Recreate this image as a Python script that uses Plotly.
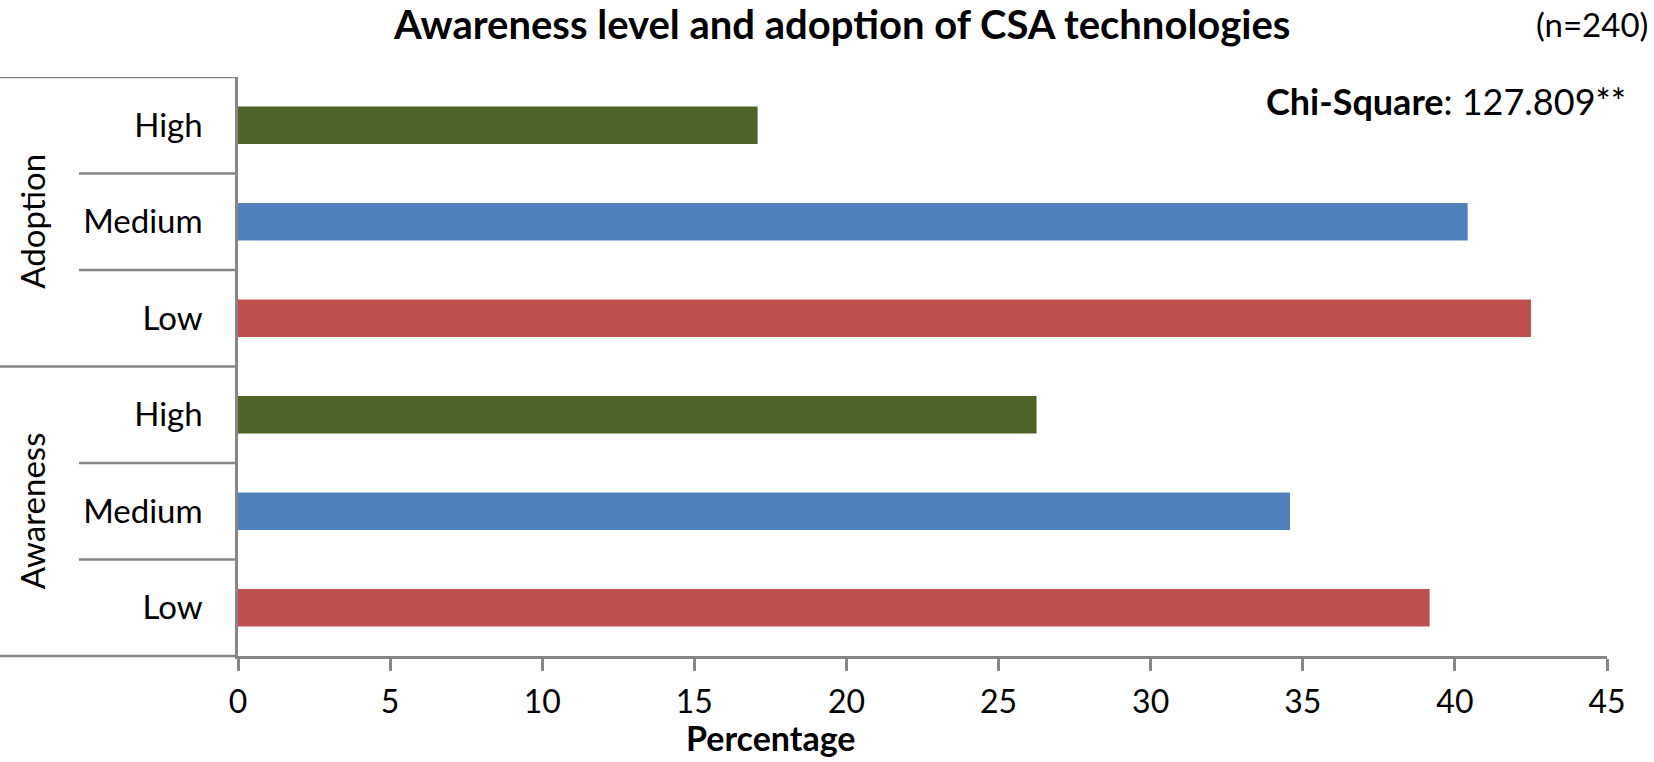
import plotly.graph_objects as go

# ---- data ----
groups = ["Awareness", "Adoption"]
levels = ["Low", "Medium", "High"]
awareness_pct = [39.17, 34.58, 26.25]
adoption_pct = [42.50, 40.42, 17.08]
level_colors = {"Low": "#C0504D", "Medium": "#4F81BD", "High": "#4F6228"}
x_ticks = [0, 5, 10, 15, 20, 25, 30, 35, 40, 45]
title_text = "Awareness level and adoption of CSA technologies"
n_text = "(n=240)"
chi_label = "Chi-Square"
chi_value = "127.809**"
x_title = "Percentage"

FONT = "Lato"
W, H = 1654, 762
L, R, T, B = 238, 47, 77, 106
PW = W - L - R
PH = H - T - B

def px_x(p):
    return (p - L) / PW

def px_y(p):
    return 1 - (p - T) / PH

cats, vals, cols, ticktext = [], [], [], []
for g, series in zip(groups, [awareness_pct, adoption_pct]):
    for lv, v in zip(levels, series):
        cats.append(f"{g}|{lv}")
        vals.append(v)
        cols.append(level_colors[lv])
        ticktext.append(lv)

fig = go.Figure(go.Bar(
    x=vals, y=cats, orientation="h",
    marker=dict(color=cols, line=dict(width=0)),
    hoverinfo="x+y",
))

grey = "#868686"
fig.update_layout(
    width=W, height=H,
    margin=dict(l=L, r=R, t=T, b=B),
    paper_bgcolor="white", plot_bgcolor="white",
    showlegend=False,
    bargap=0.61,
    font=dict(family=FONT, size=33, color="black"),
    xaxis=dict(
        range=[0, 45], tickvals=x_ticks, showgrid=False, zeroline=False,
        showline=True, linecolor=grey, linewidth=2.5,
        ticks="outside", ticklen=12, tickwidth=2.5, tickcolor=grey,
        tickfont=dict(family=FONT, size=32), ticklabelstandoff=4,
    ),
    yaxis=dict(
        type="category", categoryorder="array", categoryarray=cats,
        tickvals=cats, ticktext=ticktext, range=[-0.5, len(cats) - 0.5],
        showgrid=False, zeroline=False,
        showline=True, linecolor=grey, linewidth=2.5,
        ticks="", tickfont=dict(family=FONT, size=33), ticklabelstandoff=26,
    ),
)

shapes = []
n_per = len(levels)
for i in range(1, len(cats) + 1):
    ypos = i - 0.5
    x0 = px_x(0) if i % n_per == 0 else px_x(79)
    shapes.append(dict(type="line", xref="paper", yref="y", x0=x0, x1=0,
                       y0=ypos, y1=ypos, line=dict(color=grey, width=2.5)))
shapes.append(dict(type="line", xref="paper", yref="paper", x0=px_x(0), x1=0,
                   y0=0, y1=0, line=dict(color=grey, width=2.5)))
fig.update_layout(shapes=shapes)

ann = []
for gi, g in enumerate(groups):
    mid = cats[gi * n_per + n_per // 2]
    ann.append(dict(text=g, xref="paper", yref="y", x=px_x(32), y=mid,
                    textangle=-90, showarrow=False, xanchor="center", yanchor="middle",
                    font=dict(family=FONT, size=33)))
ann.append(dict(text=f"<b>{title_text}</b>", xref="paper", yref="paper",
                x=px_x(841), y=px_y(24), showarrow=False, xanchor="center", yanchor="middle",
                font=dict(family=FONT, size=40)))
ann.append(dict(text=n_text, xref="paper", yref="paper", x=px_x(1650), y=px_y(24),
                showarrow=False, xanchor="right", yanchor="middle",
                font=dict(family=FONT, size=33)))
ann.append(dict(text=f"<b>{chi_label}</b>: {chi_value}", xref="paper", yref="paper",
                x=px_x(1628), y=px_y(101), showarrow=False, xanchor="right", yanchor="middle",
                font=dict(family=FONT, size=36)))
ann.append(dict(text=f"<b>{x_title}</b>", xref="paper", yref="paper",
                x=px_x(770), y=px_y(737), showarrow=False, xanchor="center", yanchor="middle",
                font=dict(family=FONT, size=34)))
fig.update_layout(annotations=ann)

fig.write_html("out.html", config={"displayModeBar": False})

# remove default page margins so the figure fills the window exactly
with open("out.html", "r", encoding="utf-8") as f:
    html = f.read()
html = html.replace("<head>", "<head><style>html,body{margin:0;padding:0;overflow:hidden;}</style>", 1)
with open("out.html", "w", encoding="utf-8") as f:
    f.write(html)
